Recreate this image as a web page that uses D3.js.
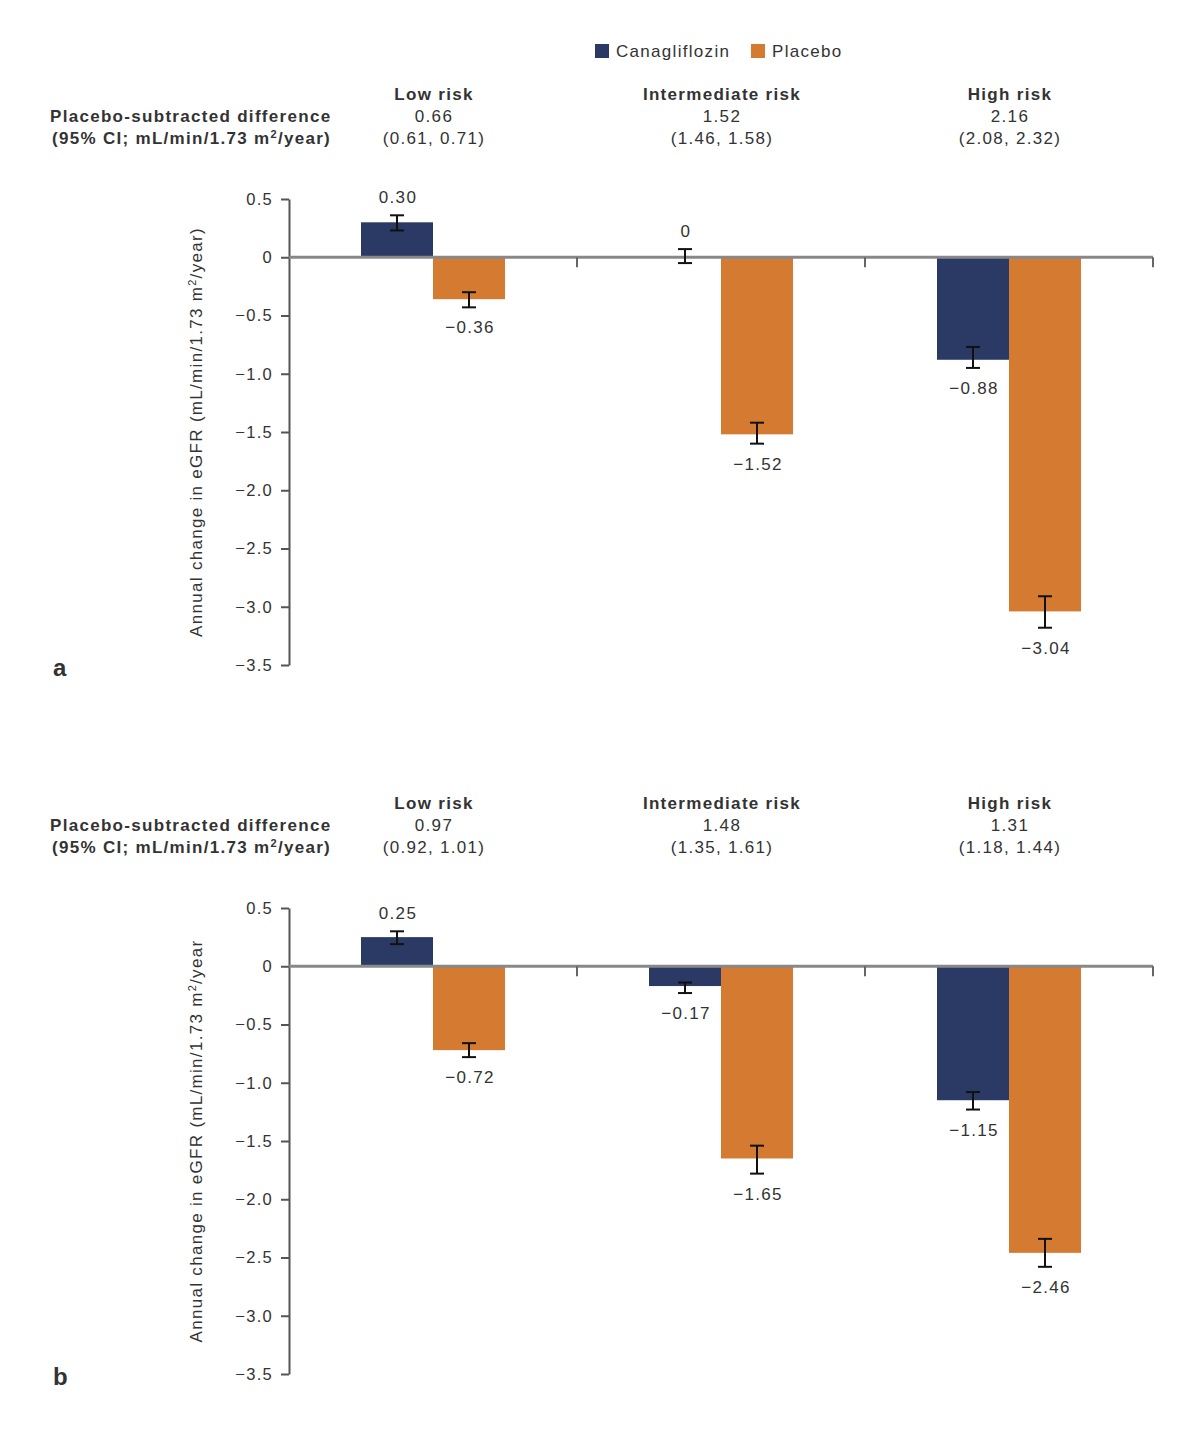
<!DOCTYPE html>
<html lang="en">
<head>
<meta charset="utf-8">
<style>
    body { margin: 0; background: #fff; }
    text { font-family: "Liberation Sans", Arial, sans-serif; fill: #333; letter-spacing: 1.3px; }
</style>
</head>
<body>
<svg id="chart" width="1200" height="1440"></svg>
<script src="https://cdnjs.cloudflare.com/ajax/libs/d3/7.8.5/d3.min.js"></script>
<script>

    // data
    var groups = ["Low risk", "Intermediate risk", "High risk"];
    var series = ["Canagliflozin", "Placebo"];
    var colors = ["#2b3a64", "#d47a31"];
    var yTicks = [0.5, 0, -0.5, -1.0, -1.5, -2.0, -2.5, -3.0, -3.5];

    // panel a
    var aCana = [0.30, 0, -0.88];
    var aCanaLo = [0.23, -0.05, -0.95];
    var aCanaHi = [0.36, 0.07, -0.77];
    var aPlac = [-0.36, -1.52, -3.04];
    var aPlacLo = [-0.43, -1.60, -3.18];
    var aPlacHi = [-0.30, -1.42, -2.91];
    var aDiff = ["0.66", "1.52", "2.16"];
    var aCI = ["(0.61, 0.71)", "(1.46, 1.58)", "(2.08, 2.32)"];

    // panel b
    var bCana = [0.25, -0.17, -1.15];
    var bCanaLo = [0.19, -0.23, -1.23];
    var bCanaHi = [0.30, -0.14, -1.08];
    var bPlac = [-0.72, -1.65, -2.46];
    var bPlacLo = [-0.78, -1.78, -2.58];
    var bPlacHi = [-0.66, -1.54, -2.34];
    var bDiff = ["0.97", "1.48", "1.31"];
    var bCI = ["(0.92, 1.01)", "(1.35, 1.61)", "(1.18, 1.44)"];

    var svg = d3.select("#chart");

    // legend
    var legend = svg.append("g");
    var legendX = [595, 751];
    series.forEach(function (s, i) {
        legend.append("rect")
            .attr("x", legendX[i]).attr("y", 44)
            .attr("width", 14).attr("height", 14)
            .attr("fill", colors[i]);
        legend.append("text")
            .attr("x", legendX[i] + 21).attr("y", 57)
            .attr("font-size", "17px")
            .text(s);
    });

    var x = d3.scaleBand().domain(groups).range([289, 1153]);
    var xs = d3.scaleBand().domain(series).range([0, x.bandwidth()]).paddingOuter(1);

    var valueFmt = function (v) { return v === 0 ? "0" : d3.format(".2f")(v); };
    var tickFmt = function (v) { return v === 0 ? "0" : d3.format(".1f")(v); };

    var drawPanel = function (top, letter, yLabel, cana, canaLo, canaHi, plac, placLo, placHi, diff, ci) {
        var g = svg.append("g").attr("transform", "translate(0," + top + ")");

        // header rows
        g.append("text").attr("x", 50).attr("y", 122)
            .attr("font-size", "17px").attr("font-weight", "bold")
            .text("Placebo-subtracted difference");
        g.append("text").attr("x", 52).attr("y", 144)
            .attr("font-size", "17px").attr("font-weight", "bold")
            .html("(95% CI; mL/min/1.73 m<tspan dy='-6' font-size='11px'>2</tspan><tspan dy='6'>/year)</tspan>");

        groups.forEach(function (grp, i) {
            var cx = x(grp) + x.bandwidth() / 2 + 1;
            g.append("text").attr("x", cx).attr("y", 100)
                .attr("text-anchor", "middle").attr("font-size", "17px").attr("font-weight", "bold")
                .text(grp);
            g.append("text").attr("x", cx).attr("y", 122)
                .attr("text-anchor", "middle").attr("font-size", "17px")
                .text(diff[i]);
            g.append("text").attr("x", cx).attr("y", 144)
                .attr("text-anchor", "middle").attr("font-size", "17px")
                .text(ci[i]);
        });

        var y = d3.scaleLinear().domain([-3.5, 0.5]).range([665, 199]);

        // y axis
        var axis = g.append("g")
            .attr("transform", "translate(289,0)")
            .call(d3.axisLeft(y).tickValues(yTicks).tickFormat(tickFmt).tickSize(8).tickSizeOuter(0).tickPadding(8));
        axis.select(".domain").attr("stroke", "#555").attr("stroke-width", 2);
        axis.selectAll(".tick line").attr("stroke", "#555").attr("stroke-width", 2);
        axis.selectAll(".tick text")
            .attr("font-size", "16.5px")
            .attr("font-family", "Liberation Sans, Arial, sans-serif")
            .attr("fill", "#333");

        g.append("text")
            .attr("transform", "translate(202," + ((199 + 665) / 2) + ") rotate(-90)")
            .attr("text-anchor", "middle").attr("font-size", "17px")
            .html(yLabel);

        // bars
        var rows = [];
        groups.forEach(function (grp, i) {
            rows.push({grp: grp, s: series[0], c: colors[0], v: cana[i], lo: canaLo[i], hi: canaHi[i]});
            rows.push({grp: grp, s: series[1], c: colors[1], v: plac[i], lo: placLo[i], hi: placHi[i]});
        });

        g.selectAll("rect.bar")
            .data(rows)
            .enter()
            .append("rect")
            .attr("class", "bar")
            .attr("x", function (d) { return x(d.grp) + xs(d.s); })
            .attr("y", function (d) { return y(Math.max(0, d.v)); })
            .attr("width", xs.bandwidth())
            .attr("height", function (d) { return Math.abs(y(d.v) - y(0)); })
            .attr("fill", function (d) { return d.c; });

        // zero line + group ticks
        g.append("line")
            .attr("x1", 289).attr("x2", 1153)
            .attr("y1", y(0)).attr("y2", y(0))
            .attr("stroke", "#888").attr("stroke-width", 3);
        groups.forEach(function (grp) {
            var gx = x(grp) + x.bandwidth();
            g.append("line")
                .attr("x1", gx).attr("x2", gx)
                .attr("y1", y(0)).attr("y2", y(0) + 10)
                .attr("stroke", "#666").attr("stroke-width", 2);
        });

        // error bars
        rows.forEach(function (d) {
            var cx = x(d.grp) + xs(d.s) + xs.bandwidth() / 2;
            var eb = g.append("g").attr("stroke", "#111").attr("stroke-width", 2);
            eb.append("line").attr("x1", cx).attr("x2", cx).attr("y1", y(d.hi)).attr("y2", y(d.lo));
            eb.append("line").attr("x1", cx - 7).attr("x2", cx + 7).attr("y1", y(d.hi)).attr("y2", y(d.hi));
            eb.append("line").attr("x1", cx - 7).attr("x2", cx + 7).attr("y1", y(d.lo)).attr("y2", y(d.lo));

            g.append("text")
                .attr("x", cx + 1)
                .attr("y", d.v >= 0 ? y(d.hi) - 12 : y(d.lo) + 26)
                .attr("text-anchor", "middle").attr("font-size", "17px")
                .text(valueFmt(d.v));
        });

        g.append("text")
            .attr("x", 53).attr("y", 676)
            .attr("font-size", "24px").attr("font-weight", "bold").attr("fill", "#111")
            .text(letter);
    };

    drawPanel(0, "a", "Annual change in eGFR (mL/min/1.73 m<tspan dy='-6' font-size='11px'>2</tspan><tspan dy='6'>/year)</tspan>",
        aCana, aCanaLo, aCanaHi, aPlac, aPlacLo, aPlacHi, aDiff, aCI);
    drawPanel(709, "b", "Annual change in eGFR (mL/min/1.73 m<tspan dy='-6' font-size='11px'>2</tspan><tspan dy='6'>/year</tspan>",
        bCana, bCanaLo, bCanaHi, bPlac, bPlacLo, bPlacHi, bDiff, bCI);

</script>
</body>
</html>
